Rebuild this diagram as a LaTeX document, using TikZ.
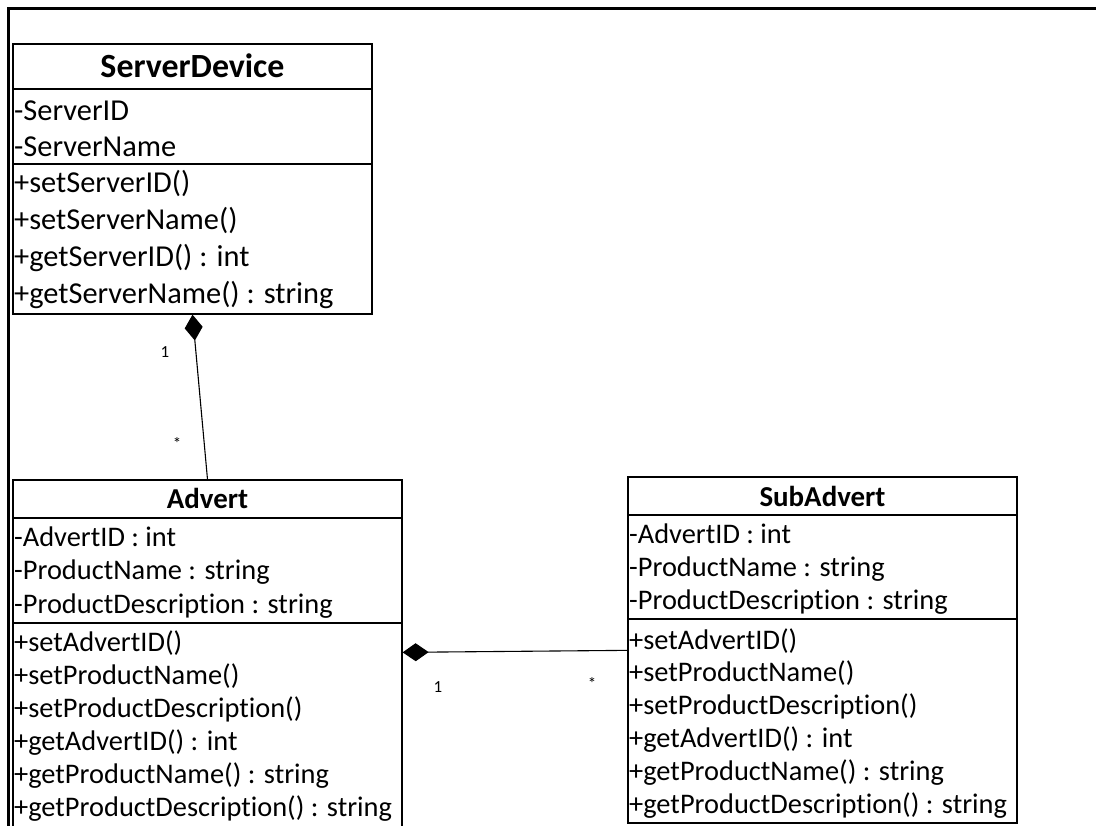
\documentclass[tikz,border=0pt]{standalone}
\usepackage{fontspec}
\setmainfont{Carlito}[Ligatures={NoCommon}]
\usetikzlibrary{arrows.meta}
\begin{document}
\begin{tikzpicture}[x=1bp,y=-1bp,
  classbox/.style={draw=black,line width=1.3bp,rectangle,inner sep=0pt},
  sepline/.style={draw=black,line width=1.3bp},
  frameline/.style={draw=black,line width=3bp},
  txtbig/.style={anchor=base west,inner sep=0pt,font=\fontsize{30.5}{36}\selectfont},
  txt/.style={anchor=base west,inner sep=0pt,font=\fontsize{28.5}{33}\selectfont},
  titlebig/.style={anchor=base,inner sep=0pt,font=\fontsize{34}{40}\selectfont\bfseries},
  title/.style={anchor=base,inner sep=0pt,font=\fontsize{29}{34}\selectfont\bfseries},
  mult/.style={inner sep=0pt,font=\fontsize{17}{19}\selectfont},
  comp/.style={line width=1.1bp,{Diamond[length=26bp,width=18bp]}-}
]
\useasboundingbox (0,0) rectangle (1096,826);
\fill[white] (-20,-20) rectangle (1120,850);
% outer frame
\coordinate (ftl) at (8,8);
\coordinate (ftr) at (1100,8);
\coordinate (fbl) at (8,830);
\draw[frameline] (ftr) -- (ftl) -- (fbl);

% ServerDevice
\node[classbox,minimum width=359bp,minimum height=270bp] (sd) at (192.5,179) {};
\draw[sepline] (sd.west |- 0,89) -- (sd.east |- 0,89);
\draw[sepline] (sd.west |- 0,164) -- (sd.east |- 0,164);
\node[titlebig] (sdt) at (192.5,77) {ServerDevice};
\foreach \t [count=\i from 0] in {-ServerID,-ServerName}
  \node[txtbig] (sda\i) at (14,120+36*\i) {\t};
\foreach \t [count=\i from 0] in {+setServerID(),+setServerName(),+getServerID() : int,+getServerName() : string}
  \node[txtbig] (sdm\i) at (14,192+37*\i) {\t};

% Advert
\node[classbox,minimum width=389bp,minimum height=366bp] (adv) at (207.5,663) {};
\draw[sepline] (adv.west |- 0,518) -- (adv.east |- 0,518);
\draw[sepline] (adv.west |- 0,623) -- (adv.east |- 0,623);
\node[title] (advt) at (207.5,508) {Advert};
\foreach \t [count=\i from 0] in {-AdvertID : int,-ProductName : string,-ProductDescription : string}
  \node[txt] (adva\i) at (14,546+33.5*\i) {\t};
\foreach \t [count=\i from 0] in {+setAdvertID(),+setProductName(),+setProductDescription(),+getAdvertID() : int,+getProductName() : string,+getProductDescription() : string}
  \node[txt] (advm\i) at (14,651+33*\i) {\t};

% SubAdvert
\node[classbox,minimum width=389bp,minimum height=346bp] (sub) at (822.5,650) {};
\draw[sepline] (sub.west |- 0,515) -- (sub.east |- 0,515);
\draw[sepline] (sub.west |- 0,619) -- (sub.east |- 0,619);
\node[title] (subt) at (822.5,506) {SubAdvert};
\foreach \t [count=\i from 0] in {-AdvertID : int,-ProductName : string,-ProductDescription : string}
  \node[txt] (suba\i) at (629,543+33*\i) {\t};
\foreach \t [count=\i from 0] in {+setAdvertID(),+setProductName(),+setProductDescription(),+getAdvertID() : int,+getProductName() : string,+getProductDescription() : string}
  \node[txt] (subm\i) at (629,649+32.8*\i) {\t};

% compositions
\draw[comp] (sd.south) -- (adv.north);
\draw[comp] ([yshift=-173bp]adv.north east) -- ([yshift=-174bp]sub.north west);
\node[mult] (m1) at (165,352) {1};
\node[mult] (m2) at (177,443) {*};
\node[mult] (m3) at (438,687) {1};
\node[mult] (m4) at (592,683) {*};

% keep the right margin clear
\fill[white] (1086,11) rectangle (1110,840);
\end{tikzpicture}
\end{document}
